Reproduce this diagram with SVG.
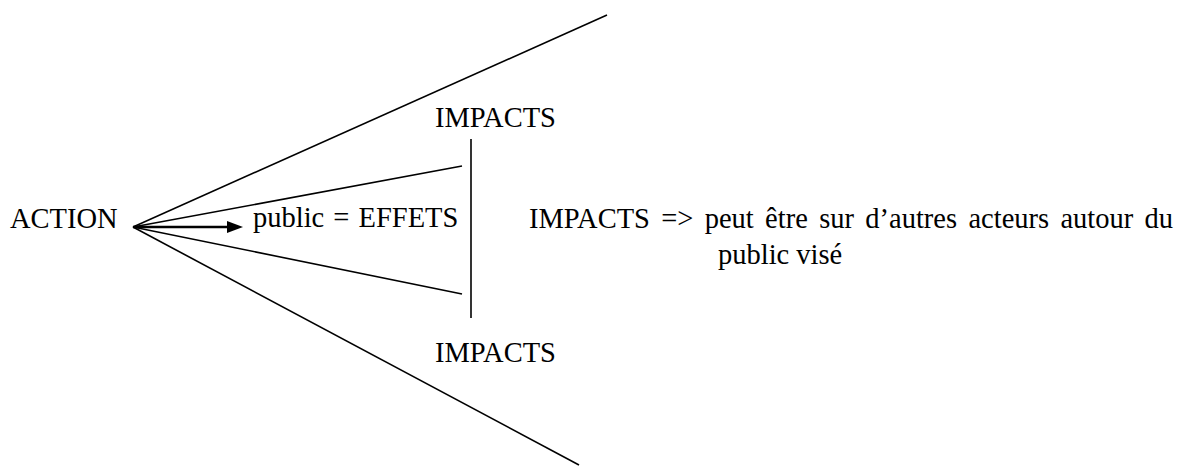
<svg xmlns="http://www.w3.org/2000/svg" width="1180" height="467" viewBox="0 0 1180 467">
<style>
.t{font-family:"Liberation Serif","Times New Roman",serif;font-size:28.5px;fill:#000}
.ln{stroke:#000;stroke-width:1.6;fill:none}
</style>
<rect width="1180" height="467" fill="#fff"/>
<g id="connectors">
<line class="ln" x1="133" y1="227" x2="607" y2="15"/>
<line class="ln" x1="133" y1="227" x2="462" y2="166"/>
<line class="ln" x1="133" y1="227" x2="462" y2="294"/>
<line class="ln" x1="133" y1="227" x2="579" y2="465"/>
<line class="ln" x1="471" y1="139" x2="471" y2="318"/>
<line x1="133" y1="227" x2="229" y2="227" stroke="#000" stroke-width="2.4"/>
<path d="M227,221 L243,227 L227,233 Z" fill="#000"/>
</g>
<g id="action"><text class="t" x="10" y="228">ACTION</text></g>
<g id="effets"><text class="t" x="253" y="227" word-spacing="2">public = EFFETS</text></g>
<g id="impacts-top"><text class="t" x="435" y="127">IMPACTS</text></g>
<g id="impacts-bottom"><text class="t" x="435" y="362">IMPACTS</text></g>
<g id="note">
<text class="t" x="529" y="228" word-spacing="4.2">IMPACTS =&gt; peut être sur d’autres acteurs autour du</text>
<text class="t" x="718" y="264">public visé</text>
</g>
</svg>
